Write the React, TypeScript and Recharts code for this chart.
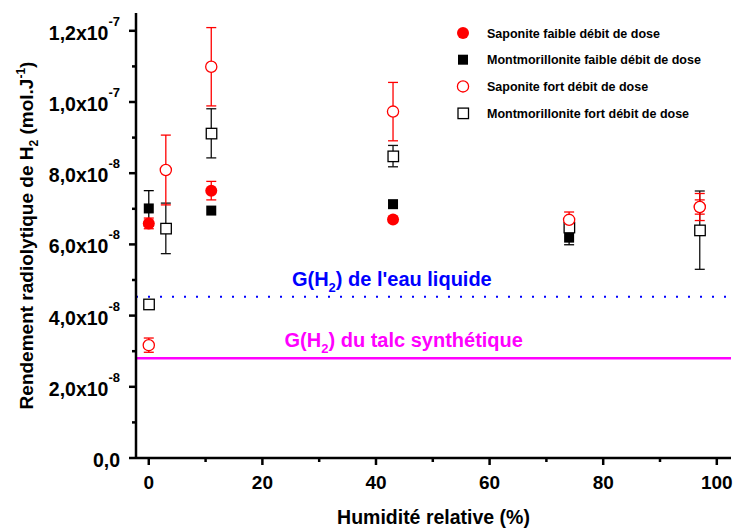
import React from 'react';
import { ScatterChart, Scatter, XAxis, YAxis, ErrorBar, ReferenceLine } from 'recharts';

const FONT = '"Liberation Sans", Arial, sans-serif';

// values in units of 1e-8 mol/J, humidity in %
const sapFaibleX = [0, 11, 43, 97];
const sapFaibleY = [6.59, 7.51, 6.7, 7.05];
const sapFaibleErr = [0.15, 0.26, 0.08, 0.2];

const montFaibleX = [0, 11, 43, 74];
const montFaibleY = [7.01, 6.95, 7.13, 6.19];
const montFaibleErr = [0.5, 0, 0.1, 0.2];

const sapFortX = [0, 3, 11, 43, 74, 97];
const sapFortY = [3.17, 8.09, 10.99, 9.73, 6.69, 7.05];
const sapFortErr = [0.2, 0.98, 1.1, 0.82, 0.22, 0.38];

const montFortX = [0, 3, 11, 43, 74, 97];
const montFortY = [4.32, 6.45, 9.12, 8.48, 6.48, 6.4];
const montFortErr = [0, 0.71, 0.69, 0.3, 0.1, 1.1];

const gWater = 4.53;
const gTalc = 2.8;

const xTicks = [0, 10, 20, 30, 40, 50, 60, 70, 80, 90, 100];
const xMajor = [0, 20, 40, 60, 80, 100];
const yTicks = [0, 1, 2, 3, 4, 5, 6, 7, 8, 9, 10, 11, 12];
const yMajor = [0, 2, 4, 6, 8, 10, 12];
const yMantissa = ['0,0', '2,0', '4,0', '6,0', '8,0', '1,0', '1,2'];
const yExponent = ['', '-8', '-8', '-8', '-8', '-7', '-7'];

const legendNames = [
  'Saponite faible débit de dose',
  'Montmorillonite faible débit de dose',
  'Saponite fort débit de dose',
  'Montmorillonite fort débit de dose',
];

const toPoints = (xs: number[], ys: number[], es: number[]) =>
  xs.map((x, i) => ({ x, y: ys[i], err: es[i] }));

const RED = '#ff0000';

const FilledCircle = (p: any) => <circle cx={p.cx} cy={p.cy} r={6} fill={RED} />;
const FilledSquare = (p: any) => (
  <rect x={p.cx - 5} y={p.cy - 5} width={10} height={10} fill="#000" />
);
const OpenCircle = (p: any) => (
  <circle cx={p.cx} cy={p.cy} r={5.6} fill="#fff" stroke={RED} strokeWidth={1.3} />
);
const OpenSquare = (p: any) => (
  <rect x={p.cx - 5} y={p.cy - 5} width={10.5} height={10.5} fill="#fff" stroke="#000" strokeWidth={1.3} />
);

const legendShapes = [FilledCircle, FilledSquare, OpenCircle, OpenSquare];

const LeftTick = ({ x, y, payload }: any) => {
  const i = yMajor.indexOf(payload.value);
  return (
    <g>
      <line x1={x} x2={x - (i >= 0 ? 7 : 4)} y1={y} y2={y} stroke="#000" strokeWidth={2.5} />
      {i >= 0 && (
        <text x={x - 16} y={y + 2} dy="0.36em" textAnchor="end" fontSize={19.5} fontWeight="bold" fontFamily={FONT} fill="#000">
          {yMantissa[i]}
          {yExponent[i] ? 'x10' : ''}
          {yExponent[i] ? (
            <tspan dy={-14} fontSize={13}>
              {yExponent[i]}
            </tspan>
          ) : null}
        </text>
      )}
    </g>
  );
};

const RightTick = ({ x, y, payload }: any) => {
  const major = yMajor.includes(payload.value);
  return <line x1={x} x2={x - (major ? 7 : 4)} y1={y} y2={y} stroke="#000" strokeWidth={2.5} />;
};

const BottomTick = ({ x, y, payload }: any) => {
  const major = xMajor.includes(payload.value);
  return (
    <g>
      <line x1={x} x2={x} y1={y} y2={y + (major ? 7 : 4)} stroke="#000" strokeWidth={2.5} />
      {major && (
        <text x={x} y={y + 31} textAnchor="middle" fontSize={19} fontWeight="bold" fontFamily={FONT} fill="#000">
          {payload.value}
        </text>
      )}
    </g>
  );
};

const TopTick = ({ x, y, payload }: any) => {
  const major = xMajor.includes(payload.value);
  return <line x1={x} x2={x} y1={y} y2={y + (major ? 7 : 4)} stroke="#000" strokeWidth={2.5} />;
};

const lineLabel = (text: string, color: string, frac: number) => (props: any) => {
  const vb = props.viewBox;
  return (
    <text
      x={vb.x + vb.width * frac}
      y={vb.y - 11}
      textAnchor="middle"
      fontSize={20}
      fontWeight="bold"
      fontFamily={FONT}
      fill={color}
    >
      G(H
      <tspan dy={6} fontSize={13}>
        2
      </tspan>
      <tspan dy={-6}>){text}</tspan>
    </text>
  );
};

const axisLine = { stroke: '#000', strokeWidth: 2.5 };

export default function App() {
  return (
    <div style={{ position: 'absolute', left: 0, top: 0, width: 735, height: 528, background: '#fff' }}>
      <ScatterChart width={735} height={528} margin={{ top: 13, right: 4, bottom: 30, left: 56 }}>
        <XAxis
          type="number"
          dataKey="x"
          domain={[-2.25, 102.5]}
          ticks={xTicks}
          interval={0}
          tickSize={0}
          tickMargin={0}
          tickLine={false}
          axisLine={axisLine}
          tick={<BottomTick />}
          height={40}
          label={{
            content: (p: any) => (
              <text
                x={p.viewBox.x + p.viewBox.width / 2}
                y={524}
                textAnchor="middle"
                fontSize={19.5}
                fontWeight="bold"
                fontFamily={FONT}
                fill="#000"
              >
                Humidité relative (%)
              </text>
            ),
          }}
        />
        <XAxis
          xAxisId="top"
          orientation="top"
          type="number"
          dataKey="x"
          domain={[-2.25, 102.5]}
          ticks={xTicks}
          interval={0}
          tickSize={0}
          tickMargin={0}
          tickLine={false}
          axisLine={axisLine}
          tick={<TopTick />}
          height={0}
        />
        <YAxis
          type="number"
          dataKey="y"
          domain={[0, 12.5]}
          ticks={yTicks}
          interval={0}
          tickSize={0}
          tickMargin={0}
          tickLine={false}
          axisLine={axisLine}
          tick={<LeftTick />}
          width={80}
          label={{
            content: (p: any) => (
              <text
                x={26}
                y={p.viewBox.y + p.viewBox.height / 2}
                transform={`rotate(-90, 26, ${p.viewBox.y + p.viewBox.height / 2})`}
                dy="0.36em"
                textAnchor="middle"
                fontSize={19}
                fontWeight="bold"
                fontFamily={FONT}
                fill="#000"
              >
                Rendement radiolytique de H
                <tspan dy={5} fontSize={12}>
                  2
                </tspan>
                <tspan dy={-5}> (mol.J</tspan>
                <tspan dy={-8} fontSize={12}>
                  -1
                </tspan>
                <tspan dy={8}>)</tspan>
              </text>
            ),
          }}
        />
        <YAxis
          yAxisId="right"
          orientation="right"
          type="number"
          domain={[0, 12.5]}
          ticks={yTicks}
          interval={0}
          tickSize={0}
          tickMargin={0}
          tickLine={false}
          axisLine={axisLine}
          tick={<RightTick />}
          width={0}
        />
        <ReferenceLine
          y={gWater}
          stroke="#0000ff"
          strokeWidth={2}
          strokeDasharray="2 10"
          ifOverflow="extendDomain"
          label={{ content: lineLabel(' de l\'eau liquide', '#0000ff', 0.43) }}
        />
        <ReferenceLine
          y={gTalc}
          stroke="#ff00ff"
          strokeWidth={2.5}
          label={{ content: lineLabel(' du talc synthétique', '#ff00ff', 0.45) }}
        />
        <Scatter
          name={legendNames[1]}
          data={toPoints(montFaibleX, montFaibleY, montFaibleErr)}
          shape={FilledSquare}
          isAnimationActive={false}
        >
          <ErrorBar dataKey="err" direction="y" width={5} stroke="#000" strokeWidth={1.3} isAnimationActive={false} />
        </Scatter>
        <Scatter
          name={legendNames[0]}
          data={toPoints(sapFaibleX, sapFaibleY, sapFaibleErr)}
          shape={FilledCircle}
          isAnimationActive={false}
        >
          <ErrorBar dataKey="err" direction="y" width={5} stroke={RED} strokeWidth={1.3} isAnimationActive={false} />
        </Scatter>
        <Scatter
          name={legendNames[3]}
          data={toPoints(montFortX, montFortY, montFortErr)}
          shape={OpenSquare}
          isAnimationActive={false}
        >
          <ErrorBar dataKey="err" direction="y" width={5} stroke="#111" strokeWidth={1.3} isAnimationActive={false} />
        </Scatter>
        <Scatter
          name={legendNames[2]}
          data={toPoints(sapFortX, sapFortY, sapFortErr)}
          shape={OpenCircle}
          isAnimationActive={false}
        >
          <ErrorBar dataKey="err" direction="y" width={5} stroke={RED} strokeWidth={1.3} isAnimationActive={false} />
        </Scatter>
      </ScatterChart>
      <svg style={{ position: 'absolute', left: 450, top: 18 }} width={280} height={110}>
        {legendNames.map((name, i) => {
          const Shape = legendShapes[i];
          const cy = 15 + i * 26.7;
          return (
            <g key={name}>
              <Shape cx={13} cy={cy} />
              <text x={37} y={cy} dy="0.36em" fontSize={12.5} fontWeight="bold" fontFamily={FONT} fill="#000">
                {name}
              </text>
            </g>
          );
        })}
      </svg>
    </div>
  );
}
